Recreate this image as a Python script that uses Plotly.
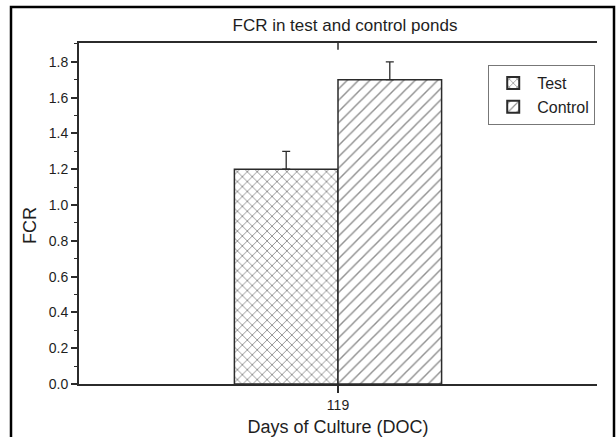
import plotly.graph_objects as go

categories = ["119"]
test_values = [1.2]
control_values = [1.7]
test_err = [0.1]
control_err = [0.1]
y_tick_vals = [0.0, 0.2, 0.4, 0.6, 0.8, 1.0, 1.2, 1.4, 1.6, 1.8]
y_tick_text = ["0.0", "0.2", "0.4", "0.6", "0.8", "1.0", "1.2", "1.4", "1.6", "1.8"]

FONT = "Liberation Sans, Arial, sans-serif"
DARK = "#2b2b2b"
TXT = "#1e1e1e"

fig = go.Figure()
fig.add_trace(go.Bar(
    name="Test", x=categories, y=test_values,
    marker=dict(color="white", line=dict(color=DARK, width=1.5),
                pattern=dict(shape="x", fgcolor="#222", bgcolor="white", size=7, solidity=0.25)),
    error_y=dict(type="data", array=test_err, arrayminus=[0], symmetric=False,
                 color=DARK, thickness=1.3, width=4),
))
fig.add_trace(go.Bar(
    name="Control", x=categories, y=control_values,
    marker=dict(color="white", line=dict(color=DARK, width=1.5),
                pattern=dict(shape="/", fgcolor="#222", bgcolor="white", size=8, solidity=0.18)),
    error_y=dict(type="data", array=control_err, arrayminus=[0], symmetric=False,
                 color=DARK, thickness=1.3, width=4),
))

fig.update_layout(
    width=616, height=437,
    margin=dict(l=79, r=19, t=43, b=53),
    paper_bgcolor="white", plot_bgcolor="white",
    barmode="group", bargap=0.6, bargroupgap=0,
    font=dict(family=FONT, color=TXT),
    title=dict(text="FCR in test and control ponds", x=0.56, xanchor="center",
               y=1 - 25 / 437, yanchor="middle", font=dict(size=17, family=FONT, color=TXT)),
    showlegend=True,
    legend=dict(x=0.79, y=0.935, xanchor="left", yanchor="top",
                bgcolor="white", bordercolor="#777", borderwidth=1,
                font=dict(size=16, family=FONT, color=TXT),
                tracegroupgap=0, itemsizing="constant", itemwidth=38),
    xaxis=dict(
        automargin=False,
        showline=True, linecolor=DARK, linewidth=2, mirror=True,
        ticks="outside", ticklen=7, tickwidth=1.5, tickcolor=DARK,
        tickfont=dict(size=14, family=FONT, color=TXT),
        title=dict(text="Days of Culture (DOC)", standoff=10,
                   font=dict(size=18, family=FONT, color=TXT)),
        showgrid=False, zeroline=False,
    ),
    yaxis=dict(
        automargin=False,
        range=[0, 1.905],
        showline=True, linecolor=DARK, linewidth=2, mirror=False,
        tickvals=y_tick_vals, ticktext=y_tick_text,
        ticks="outside", ticklen=6, tickwidth=1.5, tickcolor=DARK,
        minor=dict(dtick=0.1, ticks="outside", ticklen=3, tickwidth=1.2, tickcolor=DARK, showgrid=False),
        tickfont=dict(size=14, family=FONT, color=TXT),
        showgrid=False, zeroline=False,
    ),
    annotations=[
        dict(text="FCR", xref="paper", yref="paper", x=(30 - 79) / 518, y=(384 - 226) / 341,
             xanchor="center", yanchor="middle", textangle=-90, showarrow=False,
             font=dict(size=18, family=FONT, color=TXT)),
    ],
    shapes=[
        dict(type="rect", xref="paper", yref="paper",
             x0=(11 - 79) / 518, x1=(614 - 79) / 518,
             y0=(384 - 440) / 341, y1=(384 - 7) / 341,
             line=dict(color="black", width=2.5), fillcolor="rgba(0,0,0,0)", layer="below"),
        dict(type="line", xref="x", yref="paper", x0=0, x1=0, y0=1, y1=0.98,
             line=dict(color=DARK, width=1.5)),
    ],
)

fig.write_html("out.html", config={"displayModeBar": False},
               post_script="document.body.style.margin='0';document.body.style.overflow='hidden';")
